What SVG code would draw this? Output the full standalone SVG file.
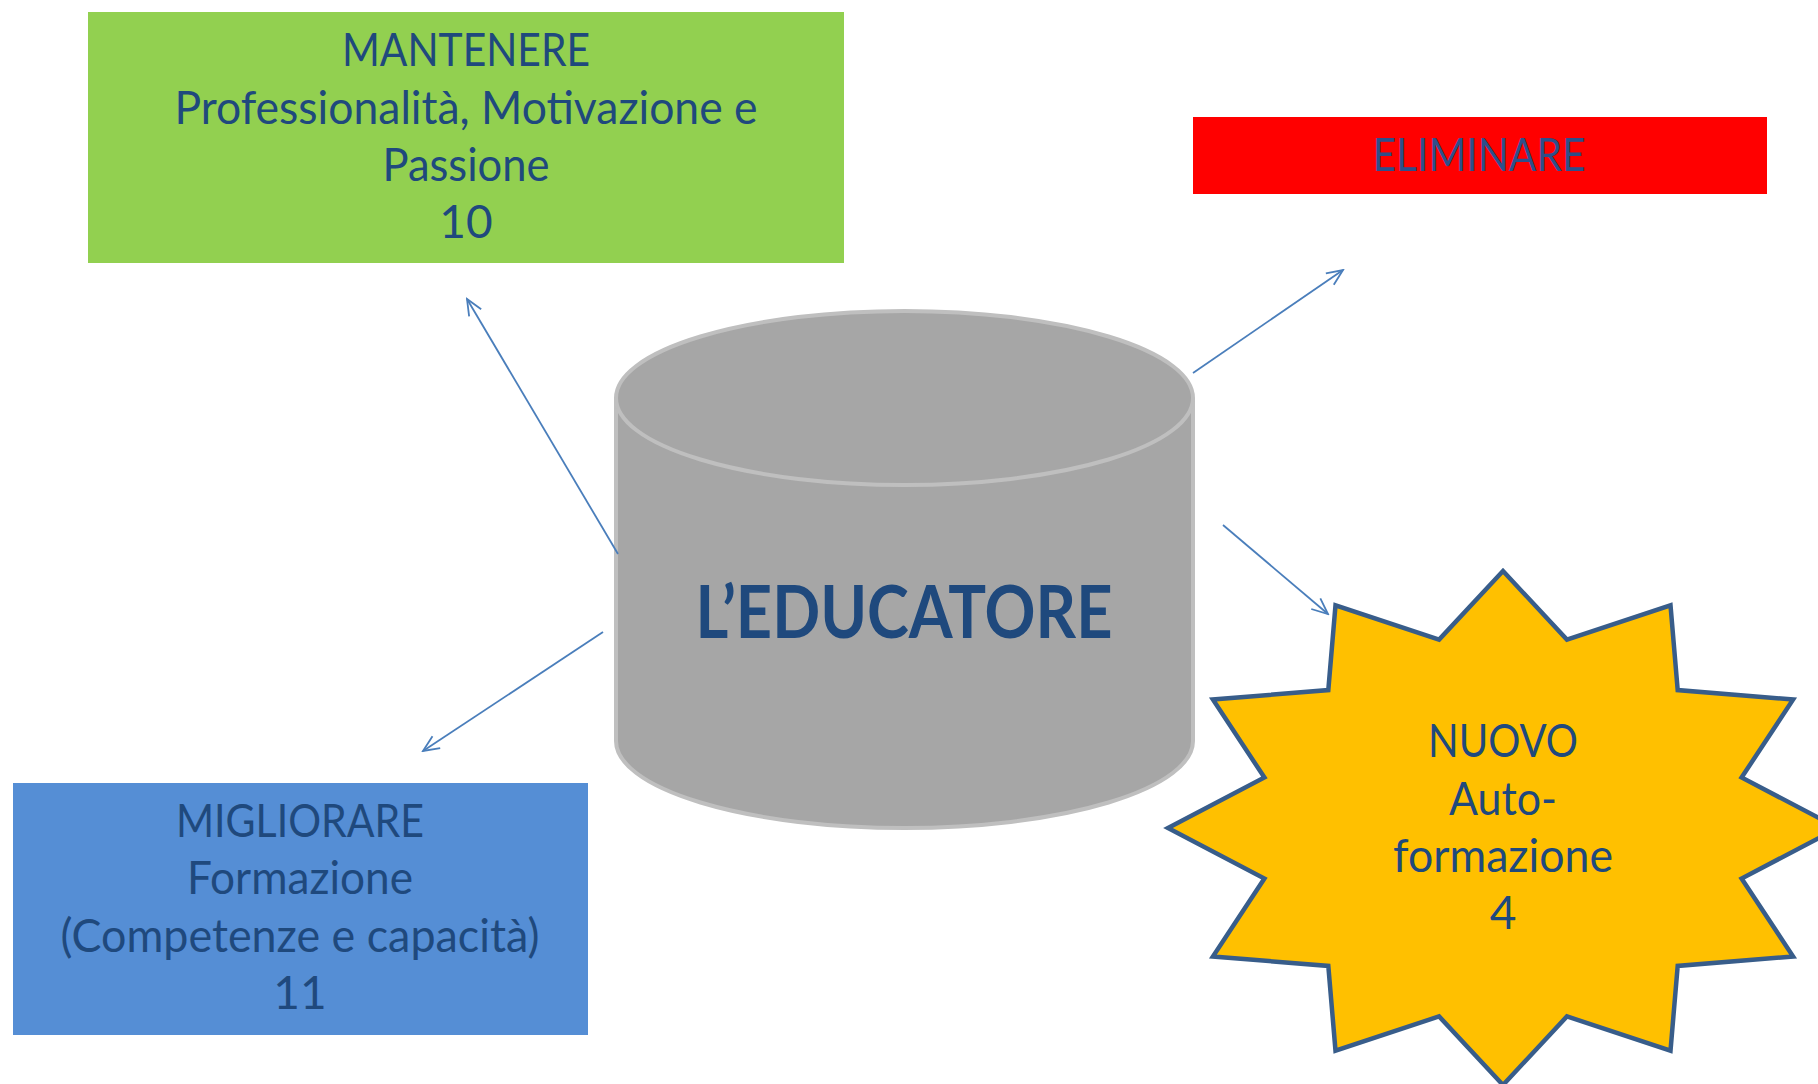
<svg xmlns="http://www.w3.org/2000/svg" width="1818" height="1084" viewBox="0 0 1818 1084">
<defs>
<style>
.t{font-family:Lato,"Liberation Sans",sans-serif;font-size:46px;fill:#1F497D;text-anchor:middle}
.b{font-weight:bold;font-size:72px}
.c{stroke:#4A7EBB;stroke-width:1.8;fill:none}
</style>
<marker id="ah" viewBox="0 0 20 20" refX="18" refY="10" markerWidth="20" markerHeight="20" markerUnits="userSpaceOnUse" orient="auto">
<path d="M2,3 L18,10 L2,17" fill="none" stroke="#4A7EBB" stroke-width="1.8"/>
</marker>
</defs>
<rect width="1818" height="1084" fill="#fff"/>
<g id="mantenere">
<rect x="88" y="12" width="756" height="251" fill="#92D050"/>
<text class="t" x="466" y="66" textLength="248" lengthAdjust="spacingAndGlyphs">MANTENERE</text>
<text class="t" x="466" y="124" textLength="583" lengthAdjust="spacingAndGlyphs">Professionalità, Motivazione e</text>
<text class="t" x="466" y="181" textLength="167" lengthAdjust="spacingAndGlyphs">Passione</text>
<text class="t" x="466" y="238">10</text>
</g>
<g id="eliminare">
<rect x="1193" y="117" width="574" height="77" fill="#FF0000"/>
<text class="t" x="1479" y="171" style="fill:#2E4F8A" textLength="213" lengthAdjust="spacingAndGlyphs">ELIMINARE</text>
</g>
<g id="educatore">
<path d="M616,398 V741 A288.5,87 0 0 0 1193,741 V398" fill="#A6A6A6" stroke="#BFBFBF" stroke-width="4"/>
<ellipse cx="904.5" cy="398" rx="288.5" ry="87" fill="#A6A6A6" stroke="#BFBFBF" stroke-width="4"/>
<text class="t b" x="904" y="638" textLength="417" lengthAdjust="spacingAndGlyphs">L’EDUCATORE</text>
</g>
<g id="migliorare">
<rect x="13" y="783" width="575" height="252" fill="#558ED5"/>
<text class="t" x="300" y="837" textLength="248" lengthAdjust="spacingAndGlyphs">MIGLIORARE</text>
<text class="t" x="300" y="894" textLength="226" lengthAdjust="spacingAndGlyphs">Formazione</text>
<text class="t" x="300" y="952" textLength="479" lengthAdjust="spacingAndGlyphs">(Competenze e capacità)</text>
<text class="t" x="300" y="1009">11</text>
</g>
<g id="nuovo">
<polygon points="1503,571 1566.9,639.6 1670.5,605.4 1677.7,690.1 1793.1,699.5 1741.6,777.5 1838,828 1741.6,878.5 1793.1,956.5 1677.7,965.9 1670.5,1050.6 1566.9,1016.4 1503,1085 1439.1,1016.4 1335.5,1050.6 1328.3,965.9 1212.9,956.5 1264.4,878.5 1168,828 1264.4,777.5 1212.9,699.5 1328.3,690.1 1335.5,605.4 1439.1,639.6" fill="#FFC000" stroke="#385D8A" stroke-width="4.5" stroke-linejoin="miter"/>
<text class="t" x="1503" y="757" textLength="150" lengthAdjust="spacingAndGlyphs">NUOVO</text>
<text class="t" x="1503" y="815" textLength="108" lengthAdjust="spacingAndGlyphs">Auto-</text>
<text class="t" x="1503" y="872" textLength="220" lengthAdjust="spacingAndGlyphs">formazione</text>
<text class="t" x="1503" y="929">4</text>
</g>
<g id="connectors">
<line class="c" x1="618" y1="554" x2="467" y2="299" marker-end="url(#ah)"/>
<line class="c" x1="1193" y1="373" x2="1343" y2="270" marker-end="url(#ah)"/>
<line class="c" x1="603" y1="632" x2="423" y2="751" marker-end="url(#ah)"/>
<line class="c" x1="1223" y1="525" x2="1328" y2="614" marker-end="url(#ah)"/>
</g>
</svg>
